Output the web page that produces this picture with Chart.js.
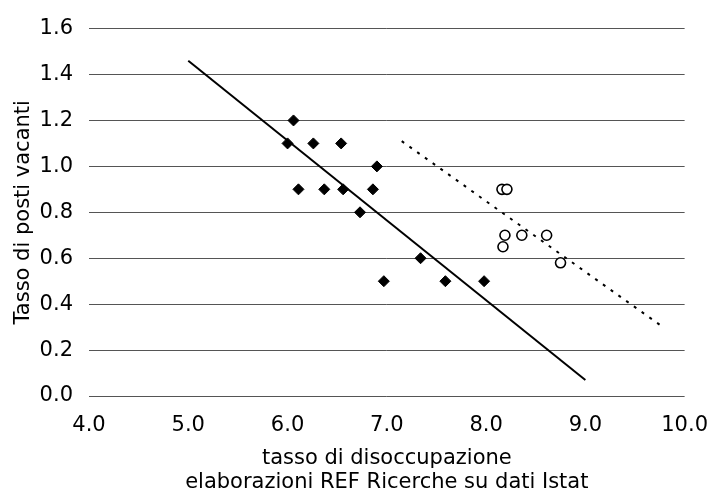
<!DOCTYPE html>
<html>
<head>
<meta charset="utf-8">
<script src="https://cdn.jsdelivr.net/npm/chart.js@4/dist/chart.umd.min.js"></script>
<style>
  html, body { margin: 0; padding: 0; background: #fff; }
  #wrap { width: 725px; height: 500px; }
</style>
</head>
<body>
<div id="wrap"><canvas id="scatter-chart"></canvas></div>
<script>
// punti "diamante" (periodo 1)
const diamondX = [6.06, 6.00, 6.26, 6.54, 6.90, 6.11, 6.37, 6.56, 6.86, 6.73, 7.34, 6.97, 7.59, 7.98]
const diamondY = [1.2, 1.1, 1.1, 1.1, 1.0, 0.9, 0.9, 0.9, 0.9, 0.8, 0.6, 0.5, 0.5, 0.5]

// punti "cerchio" (periodo 2)
const circleX = [8.16, 8.21, 8.19, 8.36, 8.61, 8.17, 8.75]
const circleY = [0.9, 0.9, 0.7, 0.7, 0.7, 0.65, 0.58]

// rette di regressione (estremi)
const fitSolidX = [5.0, 9.0]
const fitSolidY = [1.46, 0.07]
const fitDottedX = [7.15, 9.75]
const fitDottedY = [1.11, 0.31]

const yTicks = [0, 0.2, 0.4, 0.6, 0.8, 1.0, 1.2, 1.4, 1.6]
const xTicks = [4, 5, 6, 7, 8, 9, 10]

const toPoints = (xs, ys) => xs.map((x, i) => ({ x, y: ys[i] }))

const FONT = 'DejaVu Sans, Verdana, sans-serif'
Chart.defaults.font.family = FONT
Chart.defaults.font.size = 21
Chart.defaults.color = '#000'

const ctx = document.getElementById('scatter-chart').getContext('2d')

const data = {
    datasets: [
        {
            label: 'fit1',
            data: toPoints(fitSolidX, fitSolidY),
            showLine: true,
            borderColor: '#000',
            borderWidth: 2,
            pointRadius: 0
        },
        {
            label: 'fit2',
            data: toPoints(fitDottedX, fitDottedY),
            showLine: true,
            borderColor: '#000',
            borderWidth: 2,
            borderDash: [3, 6.5],
            pointRadius: 0
        },
        {
            label: 'periodo 1',
            data: toPoints(diamondX, diamondY),
            pointStyle: 'rectRot',
            pointRadius: 5.5,
            backgroundColor: '#000',
            borderColor: '#000',
            borderWidth: 1
        },
        {
            label: 'periodo 2',
            data: toPoints(circleX, circleY),
            pointStyle: 'circle',
            pointRadius: 5,
            backgroundColor: '#fff',
            borderColor: '#000',
            borderWidth: 1.6
        }
    ]
}

const config = {
    type: 'scatter',
    data,
    options: {
        responsive: true,
        maintainAspectRatio: false,
        animation: false,
        events: [],
        layout: {
            padding: { top: 21, right: 28, bottom: 0, left: 0 }
        },
        plugins: {
            legend: { display: false },
            tooltip: { enabled: false }
        },
        scales: {
            x: {
                type: 'linear',
                min: 4,
                max: 10,
                afterBuildTicks: s => { s.ticks = xTicks.map(v => ({ value: v })) },
                afterFit: s => { s.height = 104 },
                grid: { display: false, drawTicks: false },
                border: { display: false },
                ticks: {
                    padding: 17,
                    callback: v => v.toFixed(1)
                },
                title: {
                    display: true,
                    text: ['tasso di disoccupazione', 'elaborazioni REF Ricerche su dati Istat'],
                    font: { lineHeight: 1.15 },
                    padding: { top: 0, bottom: 5 }
                }
            },
            y: {
                type: 'linear',
                min: 0,
                max: 1.6,
                afterBuildTicks: s => { s.ticks = yTicks.map(v => ({ value: v })) },
                afterFit: s => { s.width = 89 },
                grid: { color: '#555', lineWidth: 1, drawTicks: false },
                border: { display: false },
                ticks: {
                    padding: 16,
                    callback: v => v.toFixed(1)
                },
                title: {
                    display: true,
                    text: 'Tasso di posti vacanti',
                    padding: { top: 11, bottom: 0 }
                }
            }
        }
    }
}

const scatterChart = new Chart(ctx, config)
</script>
</body>
</html>
